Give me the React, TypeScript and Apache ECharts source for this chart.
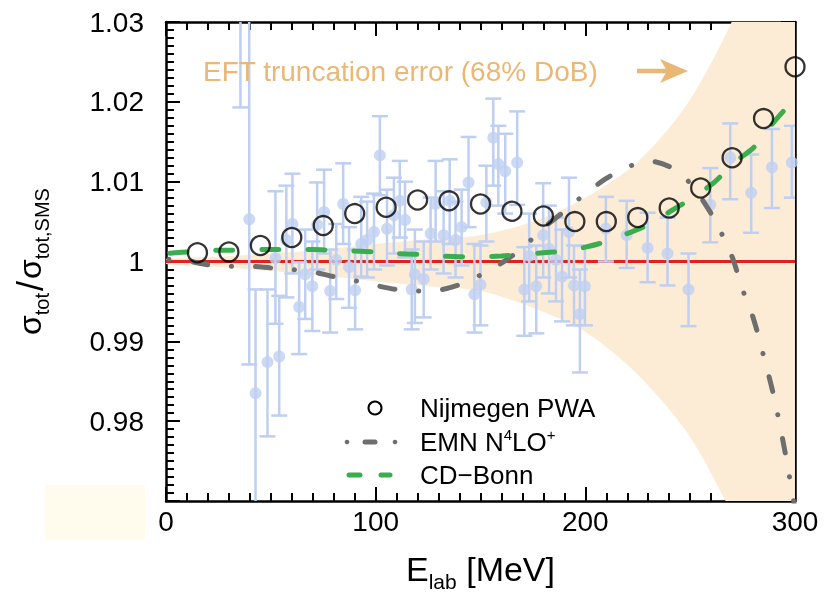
import React, { useEffect, useRef } from 'react';
import * as echarts from 'echarts';

// Nijmegen PWA
const energyPWA = [15, 30, 45, 60, 75, 90, 105, 120, 135, 150, 165, 180, 195, 210, 225, 240, 255, 270, 285, 300];
const ratioPWA = [1.0011, 1.0012, 1.002, 1.003, 1.0045, 1.006, 1.0068, 1.0077, 1.0076, 1.0072, 1.0063, 1.0057, 1.005, 1.005, 1.0055, 1.0067, 1.0092, 1.013, 1.0179, 1.0244];

// theory curves
const energyTheory = [0, 10, 20, 30, 40, 50, 60, 70, 80, 90, 100, 110, 120, 130, 140, 150, 160, 170, 180, 190, 200, 210, 220, 230, 240, 250, 260, 265, 270, 275, 280, 285, 290, 295, 300];
const ratioEMN = [1.0003, 1.0001, 0.9996, 0.9994, 0.9994, 0.9992, 0.999, 0.9987, 0.9981, 0.9976, 0.997, 0.9965, 0.9963, 0.9964, 0.9971, 0.9983, 0.9998, 1.0017, 1.0042, 1.0063, 1.0085, 1.0104, 1.0118, 1.0126, 1.0119, 1.0098, 1.006, 1.0035, 1.0006, 0.9965, 0.993, 0.9882, 0.983, 0.9765, 0.969];
const ratioCDBonn = [1.001, 1.0012, 1.0014, 1.0014, 1.0015, 1.0015, 1.0015, 1.0015, 1.0014, 1.0013, 1.0012, 1.001, 1.0009, 1.0007, 1.0006, 1.0006, 1.0007, 1.0009, 1.0011, 1.0013, 1.0018, 1.0025, 1.0035, 1.0046, 1.0062, 1.0078, 1.0096, 1.0108, 1.0122, 1.0132, 1.0142, 1.0158, 1.0175, 1.019, 1.0205];

// EFT truncation band (68% DoB)
const bandEnergy = [0, 25, 50, 75, 100, 125, 150, 175, 200, 225, 250, 275, 300];
const bandUpper = [1.0003, 1.0006, 1.001, 1.0015, 1.0022, 1.0028, 1.0033, 1.005, 1.008, 1.0125, 1.0203, 1.033, 1.05];
const bandLower = [0.9997, 0.9993, 0.9988, 0.9982, 0.9975, 0.9969, 0.9963, 0.9942, 0.9912, 0.9858, 0.978, 0.966, 0.955];

// experimental data
const dataEnergy = [35.5, 39.7, 42.7, 48.4, 52.2, 54.0, 57.4, 60.3, 63.5, 66.4, 69.8, 72.1, 75.4, 78.3, 81.2, 84.5, 87.3, 90.2, 93.1, 95.9, 99.2, 102, 105.4, 108.7, 111.5, 114, 117.2, 118.7, 122.9, 126.2, 128.6, 132.4, 135.3, 138.1, 141, 144.3, 147.1, 150, 152.8, 156.1, 158.5, 161.8, 167.5, 170.9, 173.2, 176.6, 179.9, 182.7, 186, 188.9, 192.2, 194.6, 197.4, 199.8, 209.8, 219.7, 229.7, 239.2, 249.2, 259.6, 269.1, 279.1, 289, 298.5];
const dataRatio = [1.036, 1.0053, 0.9835, 0.9874, 1.0004, 0.9881, 1.0027, 1.0047, 0.9943, 0.9984, 0.9969, 1.0046, 1.0062, 0.9963, 1.0002, 1.0072, 0.9993, 0.9964, 1.0022, 1.0027, 1.0037, 1.0133, 1.0041, 1.0058, 1.0076, 1.0052, 0.9965, 0.9984, 0.9978, 1.0035, 1.0072, 1.0033, 1.0076, 1.0027, 1.0043, 1.0099, 0.9959, 0.9971, 1.0074, 1.0155, 1.0122, 1.0113, 1.0124, 0.9965, 1.0007, 0.9969, 1.0033, 1.0016, 1.0002, 0.9981, 1.0037, 0.997, 0.9934, 0.9969, 1.0041, 1.0033, 1.0017, 1.001, 0.9965, 1.0071, 1.013, 1.0086, 1.0118, 1.0124];
const dataLow = [1.0193, 0.9871, 0.965, 0.9781, 0.9922, 0.9807, 0.9955, 0.9985, 0.9884, 0.9928, 0.9913, 0.999, 1.001, 0.9911, 0.9953, 1.0022, 0.9942, 0.9915, 0.9981, 0.998, 0.999, 1.0083, 0.9995, 1.001, 1.003, 1.0005, 0.9915, 0.9923, 0.993, 0.999, 1.0025, 0.9985, 1.0022, 0.998, 0.9995, 1.0043, 0.9911, 0.992, 1.0025, 1.0095, 1.007, 1.006, 1.0071, 0.9907, 0.995, 0.991, 0.998, 0.996, 0.995, 0.9925, 0.998, 0.992, 0.9861, 0.992, 1.0, 0.9992, 0.9974, 0.997, 0.9919, 1.0024, 1.0078, 1.0036, 1.0067, 1.008];
const dataHigh = [1.05, 1.04, 0.9965, 0.9965, 1.0088, 0.9957, 1.0095, 1.011, 0.9999, 1.004, 1.0025, 1.0099, 1.0115, 1.0015, 1.0047, 1.0123, 1.0043, 1.0015, 1.0081, 1.0075, 1.0085, 1.0182, 1.009, 1.0105, 1.0126, 1.01, 1.0015, 1.004, 1.0025, 1.008, 1.0126, 1.0088, 1.0128, 1.0075, 1.009, 1.0156, 1.0022, 1.002, 1.012, 1.0204, 1.017, 1.016, 1.0188, 1.0018, 1.006, 1.002, 1.0098, 1.007, 1.0055, 1.004, 1.0105, 1.002, 0.999, 1.002, 1.0081, 1.0076, 1.0061, 1.0055, 1.001, 1.0117, 1.0173, 1.0134, 1.0166, 1.017];

// axes
const X_MIN = 0, X_MAX = 300, X_MAJOR = 100;
const Y_MIN = 0.97, Y_MAX = 1.03, Y_MAJOR = 0.01;
const yTickLabels = ['', '0.98', '0.99', '1', '1.01', '1.02', '1.03'];

const FONT = '"Liberation Sans", Arial, Helvetica, sans-serif';
const BLUE = '#bfcff1';
const BAND = '#fdecd5';
const ORANGE = '#ebb776';

const App = () => {
  const ref = useRef<HTMLDivElement>(null);
  useEffect(() => {
    const chart = echarts.init(ref.current!, null, { renderer: 'svg' });

    const axisCommon = {
      type: 'value' as const,
      axisLine: { show: true, onZero: false, lineStyle: { color: '#000', width: 2.5 } },
      axisTick: { show: true, inside: true, length: 14, lineStyle: { color: '#000', width: 2 } },
      minorTick: { show: true, splitNumber: 10, length: 8, lineStyle: { color: '#000', width: 2 } },
      splitLine: { show: false },
      minorSplitLine: { show: false },
    };
    const nameStyle = (size: number, sub: number) => ({
      fontSize: size,
      color: '#000',
      fontFamily: FONT,
      lineHeight: size + 12,
      rich: {
        sub: { fontSize: sub, verticalAlign: 'bottom', lineHeight: size, fontFamily: FONT, color: '#000' },
        sl: { fontSize: size + 4, fontFamily: FONT, color: '#000', padding: [0, 2, 0, 2] },
      },
    });

    const option: any = {
      animation: false,
      textStyle: { fontFamily: FONT },
      grid: { left: 163, right: 30, top: 22, bottom: 91 },
      xAxis: [
        {
          ...axisCommon,
          position: 'bottom',
          min: X_MIN,
          max: X_MAX,
          interval: X_MAJOR,
          axisLabel: { fontSize: 28, color: '#000', margin: 6, fontFamily: FONT },
          name: 'E{sub|lab} [MeV]',
          nameLocation: 'middle',
          nameGap: 45,
          nameTextStyle: nameStyle(34, 21),
        },
        {
          ...axisCommon,
          position: 'top',
          min: X_MIN,
          max: X_MAX,
          interval: X_MAJOR,
          axisLabel: { show: false },
        },
      ],
      yAxis: [
        {
          ...axisCommon,
          position: 'left',
          min: Y_MIN,
          max: Y_MAX,
          interval: Y_MAJOR,
          axisLabel: {
            fontSize: 28,
            color: '#000',
            margin: 22,
            fontFamily: FONT,
            formatter: (v: number) => yTickLabels[Math.round((v - Y_MIN) / Y_MAJOR)] ?? '',
          },
          name: 'σ{sub|tot}{sl|/}σ{sub|tot,SMS}',
          nameLocation: 'middle',
          nameRotate: 90,
          nameGap: 114,
          nameTextStyle: nameStyle(32, 20),
        },
        {
          ...axisCommon,
          position: 'right',
          min: Y_MIN,
          max: Y_MAX,
          interval: Y_MAJOR,
          axisLabel: { show: false },
        },
      ],
      series: [
        {
          type: 'custom',
          name: 'band',
          clip: true,
          silent: true,
          z: 1,
          data: [[0, 1]],
          encode: { x: 0, y: 1 },
          renderItem: (params: any, api: any) => {
            const pts: number[][] = [];
            bandEnergy.forEach((e, i) => pts.push(api.coord([e, bandUpper[i]])));
            for (let i = bandEnergy.length - 1; i >= 0; i--) pts.push(api.coord([bandEnergy[i], bandLower[i]]));
            return { type: 'polygon', shape: { points: pts, smooth: 0.3 }, style: { fill: BAND } };
          },
        },
        {
          type: 'line',
          name: 'unity',
          data: [[X_MIN, 1], [X_MAX, 1]],
          symbol: 'none',
          z: 2,
          lineStyle: { color: '#e0221d', width: 3 },
        },
        {
          type: 'custom',
          name: 'errors',
          clip: true,
          z: 3,
          data: dataEnergy.map((e, i) => [e, dataLow[i], dataHigh[i]]),
          encode: { x: 0, y: [1, 2] },
          renderItem: (params: any, api: any) => {
            const x = api.value(0);
            const p1 = api.coord([x, api.value(2)]);
            const p2 = api.coord([x, api.value(1)]);
            const hw = 8;
            const st = { stroke: BLUE, lineWidth: 2.5 };
            return {
              type: 'group',
              children: [
                { type: 'line', shape: { x1: p1[0], y1: p1[1], x2: p2[0], y2: p2[1] }, style: st },
                { type: 'line', shape: { x1: p1[0] - hw, y1: p1[1], x2: p1[0] + hw, y2: p1[1] }, style: st },
                { type: 'line', shape: { x1: p2[0] - hw, y1: p2[1], x2: p2[0] + hw, y2: p2[1] }, style: st },
              ],
            };
          },
        },
        {
          type: 'scatter',
          name: 'data',
          z: 4,
          clip: true,
          symbol: 'circle',
          symbolSize: 12,
          itemStyle: { color: BLUE },
          data: dataEnergy.map((e, i) => [e, dataRatio[i]]),
        },
        {
          type: 'line',
          name: 'EMN N4LO+',
          z: 5,
          smooth: 0.3,
          symbol: 'none',
          clip: true,
          data: energyTheory.map((e, i) => [e, ratioEMN[i]]),
          lineStyle: { color: '#6e6e6e', width: 5, type: [15, 24, 0.1, 24], dashOffset: 36, cap: 'round' },
        },
        {
          type: 'line',
          name: 'CD-Bonn',
          z: 6,
          smooth: 0.3,
          symbol: 'none',
          clip: true,
          data: energyTheory.map((e, i) => [e, ratioCDBonn[i]]),
          lineStyle: { color: '#3aae4f', width: 5, type: [17, 29], dashOffset: 42, cap: 'round' },
        },
        {
          type: 'scatter',
          name: 'Nijmegen PWA',
          z: 7,
          clip: true,
          symbol: 'circle',
          symbolSize: 19,
          itemStyle: { color: 'rgba(0,0,0,0)', borderColor: '#000', borderWidth: 2.3 },
          data: energyPWA.map((e, i) => [e, ratioPWA[i]]),
        },
      ],
      graphic: [
        { type: 'rect', z: 100, shape: { x: 45, y: 485, width: 100, height: 55 }, style: { fill: '#fffcee' } },
        {
          type: 'text', z: 100, x: 203, y: 71,
          style: { text: 'EFT truncation error (68% DoB)', fill: ORANGE, fontSize: 28, fontFamily: FONT, verticalAlign: 'middle' },
        },
        { type: 'line', z: 100, shape: { x1: 637, y1: 71, x2: 668, y2: 71 }, style: { stroke: ORANGE, lineWidth: 4.5 } },
        { type: 'polygon', z: 100, shape: { points: [[660, 59], [688, 71], [660, 83], [667, 71]] }, style: { fill: ORANGE } },
        // legend
        { type: 'circle', z: 100, shape: { cx: 375, cy: 408, r: 6.5 }, style: { fill: 'none', stroke: '#000', lineWidth: 2 } },
        {
          type: 'text', z: 100, x: 420, y: 408,
          style: { text: 'Nijmegen PWA', fill: '#000', fontSize: 26, fontFamily: FONT, verticalAlign: 'middle' },
        },
        { type: 'circle', z: 100, shape: { cx: 347, cy: 442, r: 2.3 }, style: { fill: '#6e6e6e' } },
        { type: 'line', z: 100, shape: { x1: 365, y1: 442, x2: 375, y2: 442 }, style: { stroke: '#6e6e6e', lineWidth: 5, lineCap: 'round' } },
        { type: 'circle', z: 100, shape: { cx: 395, cy: 442, r: 2.3 }, style: { fill: '#6e6e6e' } },
        {
          type: 'text', z: 100, x: 420, y: 442,
          style: {
            text: 'EMN N{sup|4}LO{sup|+}',
            fill: '#000', fontSize: 26, fontFamily: FONT, verticalAlign: 'middle', lineHeight: 30,
            rich: { sup: { fontSize: 15, verticalAlign: 'top', lineHeight: 18, fill: '#000', fontFamily: FONT } },
          },
        },
        { type: 'line', z: 100, shape: { x1: 349, y1: 475, x2: 360, y2: 475 }, style: { stroke: '#3aae4f', lineWidth: 5, lineCap: 'round' } },
        { type: 'line', z: 100, shape: { x1: 381, y1: 475, x2: 390, y2: 475 }, style: { stroke: '#3aae4f', lineWidth: 5, lineCap: 'round' } },
        {
          type: 'text', z: 100, x: 420, y: 475,
          style: { text: 'CD\u2212Bonn', fill: '#000', fontSize: 26, fontFamily: FONT, verticalAlign: 'middle' },
        },
      ],
    };
    chart.setOption(option);
    return () => chart.dispose();
  }, []);
  return <div ref={ref} style={{ position: 'fixed', left: 0, top: 0, width: 825, height: 597 }} />;
};

export default App;
